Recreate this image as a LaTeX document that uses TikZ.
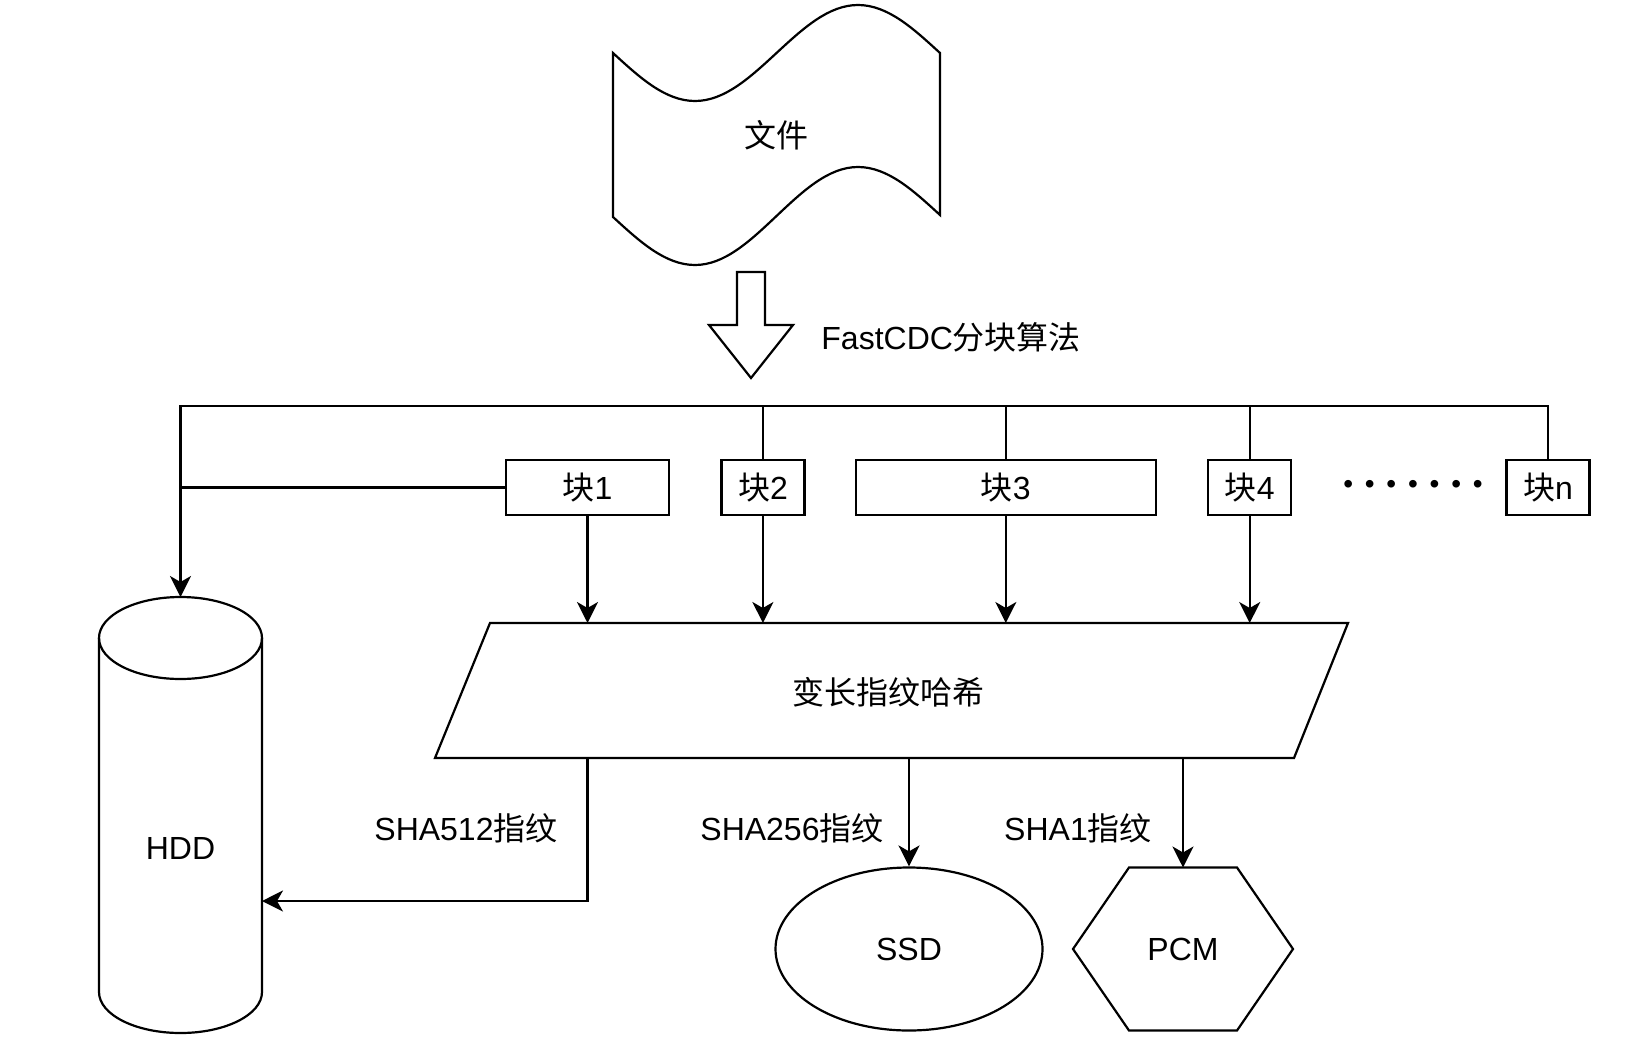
\documentclass[tikz,border=0pt]{standalone}
\usepackage{fontspec}
\setmainfont{Liberation Sans}
\newfontfamily\cjk{Noto Sans CJK SC}
\usetikzlibrary{positioning,arrows.meta,shapes.geometric}
\newcommand\dotgap{\kern11.8bp}

\begin{document}
\begin{tikzpicture}[x=1bp,y=-1bp,>={Stealth[length=21bp,width=21bp,inset=6bp]},line width=2.2bp,font=\fontsize{32bp}{38bp}\selectfont]
  \tikzstyle{chunk}=[draw=black,line width=2.4bp,minimum height=55bp,inner sep=0pt]
  \useasboundingbox (0,0) rectangle (1634,1044);

  % File (tape shape)
  \draw (613,53) sin (695,101) cos (776.5,53) sin (858,5) cos (940,53)
    -- (940,215) sin (858,167) cos (776.5,216) sin (695,265) cos (613,217) -- cycle;
  \node (file) at (776.5,135) {{\cjk 文件}};

  % Block arrow and its label
  \draw (737,272) -- (765,272) -- (765,325) -- (793,325) -- (751,378) -- (709,325) -- (737,325) -- cycle;
  \node[anchor=west] (cdc) at (817,337) {FastCDC{\cjk 分块算法}};

  % Row of chunks
  \node[chunk,minimum width=163bp] (b1) at (587.5,487.5) {{\cjk 块}1};
  \node[chunk,minimum width=83bp] (b2) [right=50bp of b1] {{\cjk 块}2};
  \node[chunk,minimum width=300bp] (b3) [right=49bp of b2] {{\cjk 块}3};
  \node[chunk,minimum width=83bp] (b4) [right=50bp of b3] {{\cjk 块}4};
  \node[chunk,minimum width=83bp] (bn) [right=213bp of b4] {{\cjk 块}n};
  \node[font=\fontsize{28bp}{32bp}\selectfont] (dots) at (1413,487) {•\dotgap•\dotgap•\dotgap•\dotgap•\dotgap•\dotgap•};

  % Hash (parallelogram)
  \coordinate (htop) at (893,623);
  \coordinate (hbot) at (866,758);
  \draw (490,623) -- (1348,623) -- (1294,758) -- (435,758) -- cycle;
  \node (hash) at (888,692) {{\cjk 变长指纹哈希}};

  % HDD (cylinder)
  \draw (99,638) -- (99,992) arc[start angle=180,end angle=0,x radius=81.5,y radius=41] -- (262,638);
  \draw (180.5,638) ellipse [x radius=81.5,y radius=41];
  \node (hdd) at (180.5,848) {HDD};
  \coordinate (hddtop) at (180.5,597);
  \coordinate (hddside) at (262,901);

  % SSD and PCM
  \node[draw,ellipse,minimum width=267bp,minimum height=163bp,inner sep=0pt] (ssd) at (909,949) {SSD};
  \node[minimum width=220bp,minimum height=163bp,outer sep=0pt] (pcm) at (1183,949) {PCM};
  \draw (pcm.west) -- ([xshift=56bp]pcm.north west) -- ([xshift=-56bp]pcm.north east) -- (pcm.east)
    -- ([xshift=-56bp]pcm.south east) -- ([xshift=56bp]pcm.south west) -- cycle;

  % Edges: bus to HDD and chunks
  \coordinate (bus) at (180.5,406);
  \draw[->] (bn.north) |- (bus) -- (hddtop);
  \foreach \b in {b2,b3,b4} \draw (\b.north) -- (\b.north |- bus);
  \draw (b1.west) -- (b1.west -| bus);

  % Edges: chunks to hash
  \foreach \b in {b1,b2,b3,b4} \draw[->] (\b.south) -- (\b.south |- htop);

  % Edges: fingerprints to storage
  \draw[->] (b1.south |- hbot) |- (hddside);
  \draw[->] (ssd.north |- hbot) -- (ssd.north);
  \draw[->] (pcm.north |- hbot) -- (pcm.north);
  \node (l512) at (466,828) {SHA512{\cjk 指纹}};
  \node (l256) at (792,828) {SHA256{\cjk 指纹}};
  \node (l1) at (1078,828) {SHA1{\cjk 指纹}};
\end{tikzpicture}
\end{document}
